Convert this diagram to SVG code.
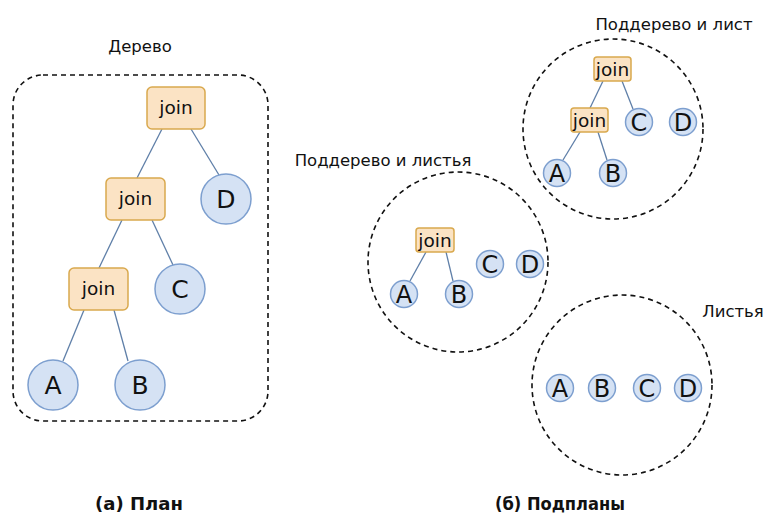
<svg xmlns="http://www.w3.org/2000/svg" width="763" height="513" viewBox="0 0 763 513">
<style>
.bg{fill:#ffffff}
.frame{fill:none;stroke:#111;stroke-width:1.6;stroke-dasharray:5 4}
.join{fill:#fbe3c4;stroke:#d9a94e;stroke-width:1.5}
.leaf{fill:#d5e2f4;stroke:#7d9fcf;stroke-width:1.5}
.edge{stroke:#5f7fa8;stroke-width:1.3;fill:none}
.t{font-family:"DejaVu Sans","Liberation Sans",sans-serif;fill:#111;text-anchor:middle}
.jl{font-size:18.5px}
.js{font-size:18.5px}
.ll{font-size:25px}
.ls{font-size:24px}
.title{font-size:16.5px}
.cap{font-size:17px;font-weight:bold}
</style>
<rect class="bg" x="0" y="0" width="763" height="513"/>

<!-- frames -->
<rect class="frame" x="13" y="75" width="255" height="346" rx="30" ry="30"/>
<circle class="frame" cx="613" cy="129" r="90"/>
<circle class="frame" cx="458" cy="262" r="90"/>
<circle class="frame" cx="622" cy="385" r="90"/>

<!-- titles -->
<text class="t title" x="140" y="52">Дерево</text>
<text class="t title" x="674" y="30">Поддерево и лист</text>
<text class="t title" x="383" y="166">Поддерево и листья</text>
<text class="t title" x="733" y="317">Листья</text>
<text class="t cap" x="139" y="510" textLength="88" lengthAdjust="spacingAndGlyphs">(а) План</text>
<text class="t cap" x="560" y="510" textLength="130" lengthAdjust="spacingAndGlyphs">(б) Подпланы</text>

<!-- connectors -->
<g id="connectors">
<line class="edge" x1="162" y1="129" x2="137" y2="178"/>
<line class="edge" x1="191" y1="129" x2="219" y2="175"/>
<line class="edge" x1="122" y1="220" x2="99" y2="268"/>
<line class="edge" x1="152" y1="220" x2="173" y2="265"/>
<line class="edge" x1="84" y1="310" x2="63" y2="361"/>
<line class="edge" x1="114" y1="310" x2="128" y2="361"/>

<line class="edge" x1="603" y1="81" x2="590" y2="108"/>
<line class="edge" x1="622" y1="81" x2="633" y2="109"/>
<line class="edge" x1="580" y1="132" x2="563" y2="160"/>
<line class="edge" x1="598" y1="132" x2="607" y2="160"/>

<line class="edge" x1="426" y1="252" x2="410" y2="281"/>
<line class="edge" x1="446" y1="252" x2="453" y2="281"/>
</g>

<!-- left tree -->
<g id="a-join1"><rect class="join" x="147" y="87" width="58" height="42" rx="5"/><text class="t jl" x="176" y="114">join</text></g>
<g id="a-join2"><rect class="join" x="106" y="178" width="59" height="42" rx="5"/><text class="t jl" x="135.5" y="205">join</text></g>
<g id="a-join3"><rect class="join" x="69" y="268" width="59" height="42" rx="5"/><text class="t jl" x="98.5" y="295">join</text></g>
<g id="a-D"><circle class="leaf" cx="226" cy="199" r="25"/><text class="t ll" x="226" y="208">D</text></g>
<g id="a-C"><circle class="leaf" cx="180" cy="289" r="25"/><text class="t ll" x="180" y="298">C</text></g>
<g id="a-A"><circle class="leaf" cx="53" cy="385" r="25"/><text class="t ll" x="53" y="394">A</text></g>
<g id="a-B"><circle class="leaf" cx="140" cy="385" r="25"/><text class="t ll" x="140" y="394">B</text></g>

<!-- subtree and leaf -->
<g id="s1-join1"><rect class="join" x="594" y="57" width="37" height="24" rx="3"/><text class="t js" x="612.5" y="76">join</text></g>
<g id="s1-join2"><rect class="join" x="571" y="108" width="37" height="24" rx="3"/><text class="t js" x="589.5" y="127">join</text></g>
<g id="s1-C"><circle class="leaf" cx="639" cy="122" r="13.5"/><text class="t ls" x="639" y="130.5">C</text></g>
<g id="s1-D"><circle class="leaf" cx="683" cy="122" r="13.5"/><text class="t ls" x="683" y="130.5">D</text></g>
<g id="s1-A"><circle class="leaf" cx="557" cy="173" r="13.5"/><text class="t ls" x="557" y="181.5">A</text></g>
<g id="s1-B"><circle class="leaf" cx="613" cy="173" r="13.5"/><text class="t ls" x="613" y="181.5">B</text></g>

<!-- subtree and leaves -->
<g id="s2-join"><rect class="join" x="416" y="228" width="38" height="24" rx="3"/><text class="t js" x="435" y="247">join</text></g>
<g id="s2-C"><circle class="leaf" cx="490" cy="264" r="13.5"/><text class="t ls" x="490" y="272.5">C</text></g>
<g id="s2-D"><circle class="leaf" cx="530" cy="264" r="13.5"/><text class="t ls" x="530" y="272.5">D</text></g>
<g id="s2-A"><circle class="leaf" cx="404" cy="294" r="13.5"/><text class="t ls" x="404" y="302.5">A</text></g>
<g id="s2-B"><circle class="leaf" cx="459" cy="294" r="13.5"/><text class="t ls" x="459" y="302.5">B</text></g>

<!-- leaves -->
<g id="s3-A"><circle class="leaf" cx="560" cy="388" r="13.5"/><text class="t ls" x="560" y="396.5">A</text></g>
<g id="s3-B"><circle class="leaf" cx="602" cy="388" r="13.5"/><text class="t ls" x="602" y="396.5">B</text></g>
<g id="s3-C"><circle class="leaf" cx="647" cy="388" r="13.5"/><text class="t ls" x="647" y="396.5">C</text></g>
<g id="s3-D"><circle class="leaf" cx="688" cy="388" r="13.5"/><text class="t ls" x="688" y="396.5">D</text></g>
</svg>
